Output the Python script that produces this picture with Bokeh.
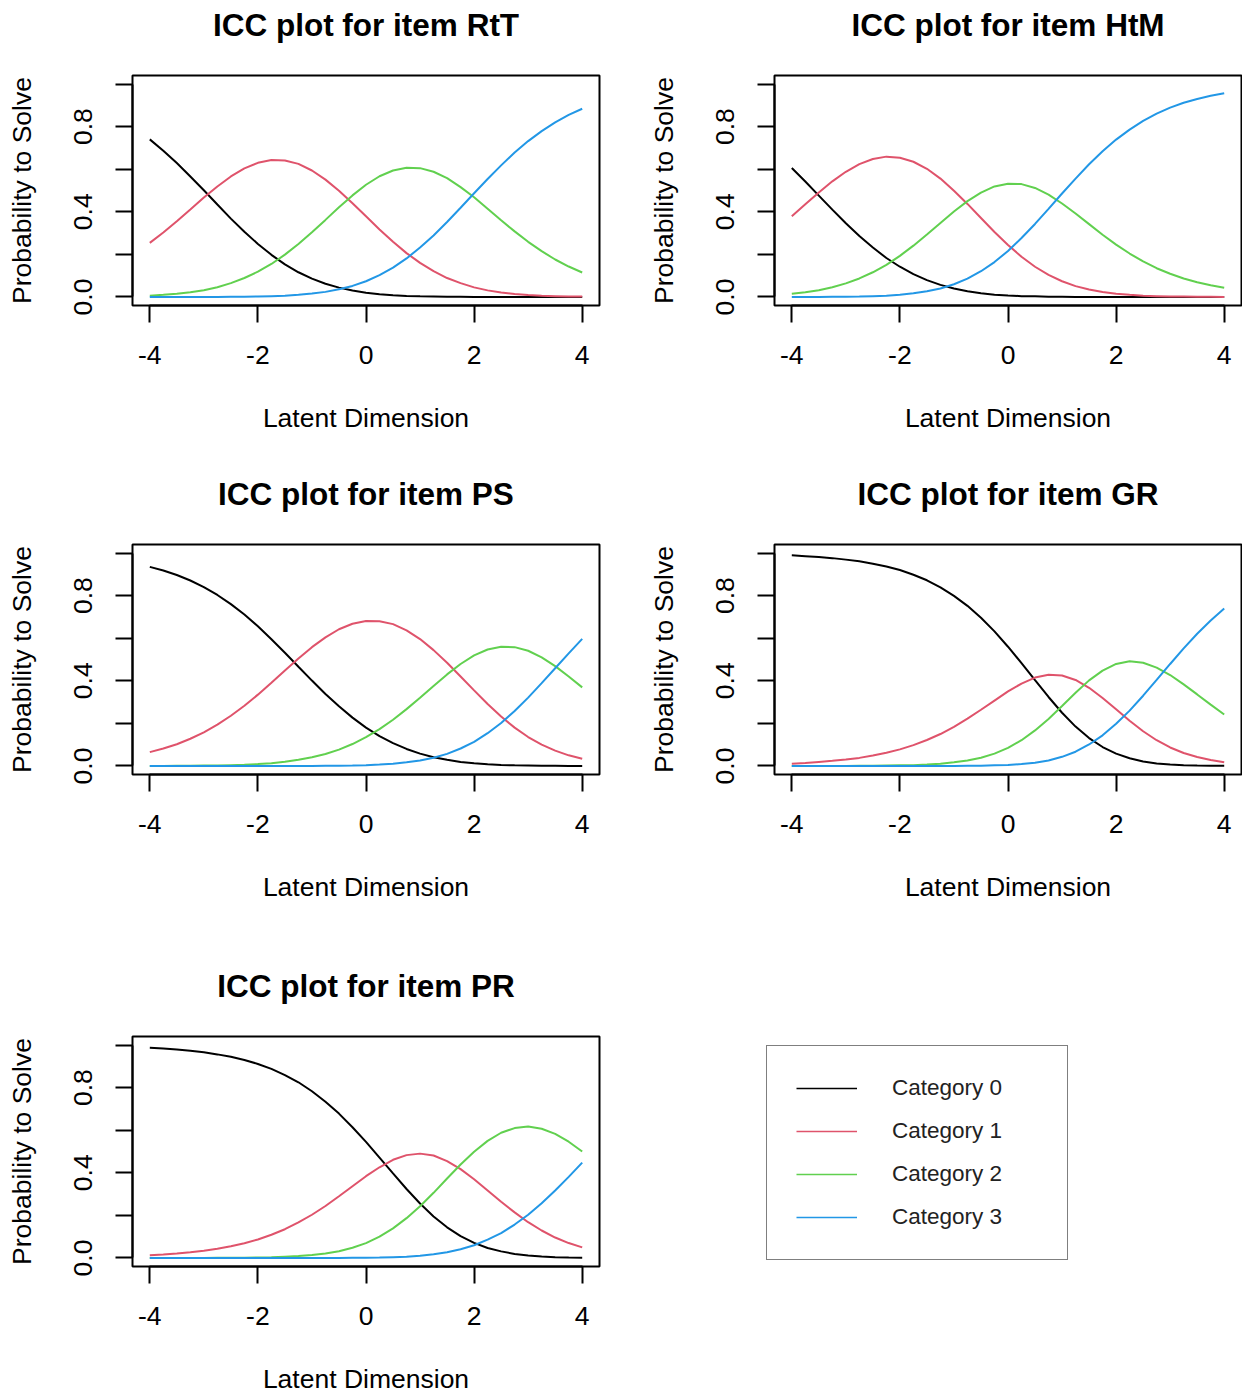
from bokeh.plotting import figure
from bokeh.layouts import column, row
from bokeh.models import (Range1d, FixedTicker, CustomJSTickFormatter,
                          Legend, LegendItem, Title)
from bokeh.embed import file_html
from bokeh.resources import INLINE

# Latent dimension grid (theta)
THETA = [-4.0, -3.75, -3.5, -3.25, -3.0, -2.75, -2.5, -2.25, -2.0, -1.75, -1.5,
         -1.25, -1.0, -0.75, -0.5, -0.25, 0.0, 0.25, 0.5, 0.75, 1.0, 1.25, 1.5,
         1.75, 2.0, 2.25, 2.5, 2.75, 3.0, 3.25, 3.5, 3.75, 4.0]

CATEGORIES = ["Category 0", "Category 1", "Category 2", "Category 3"]
COLORS = ["#000000", "#DF536B", "#61D04F", "#2297E6"]

# Category probabilities per item
RtT_cat0 = [0.740, 0.687, 0.629, 0.566, 0.501, 0.434, 0.368, 0.306, 0.249, 0.198, 0.153,
            0.116, 0.086, 0.062, 0.044, 0.030, 0.020, 0.013, 0.008, 0.005, 0.003, 0.002,
            0.001, 0.001, 0.000, 0.000, 0.000, 0.000, 0.000, 0.000, 0.000, 0.000, 0.000]
RtT_cat1 = [0.254, 0.303, 0.356, 0.411, 0.467, 0.519, 0.566, 0.604, 0.630, 0.643, 0.641,
            0.625, 0.594, 0.551, 0.499, 0.440, 0.379, 0.317, 0.259, 0.206, 0.160, 0.121,
            0.089, 0.065, 0.045, 0.031, 0.021, 0.014, 0.009, 0.006, 0.004, 0.002, 0.002]
RtT_cat2 = [0.006, 0.010, 0.015, 0.022, 0.032, 0.046, 0.065, 0.089, 0.119, 0.155, 0.199,
            0.249, 0.304, 0.362, 0.421, 0.477, 0.527, 0.567, 0.594, 0.607, 0.605, 0.588,
            0.558, 0.516, 0.468, 0.414, 0.360, 0.308, 0.259, 0.215, 0.176, 0.143, 0.115]
RtT_cat3 = [0.000, 0.000, 0.000, 0.000, 0.000, 0.000, 0.001, 0.001, 0.002, 0.004, 0.006,
            0.010, 0.016, 0.024, 0.036, 0.052, 0.074, 0.103, 0.138, 0.181, 0.232, 0.289,
            0.352, 0.419, 0.487, 0.554, 0.618, 0.678, 0.732, 0.779, 0.820, 0.855, 0.884]

HtM_cat0 = [0.606, 0.542, 0.476, 0.410, 0.346, 0.286, 0.232, 0.183, 0.142, 0.107, 0.079,
            0.057, 0.040, 0.027, 0.018, 0.011, 0.007, 0.004, 0.003, 0.001, 0.001, 0.000,
            0.000, 0.000, 0.000, 0.000, 0.000, 0.000, 0.000, 0.000, 0.000, 0.000, 0.000]
HtM_cat1 = [0.379, 0.435, 0.491, 0.543, 0.588, 0.624, 0.648, 0.659, 0.654, 0.635, 0.602,
            0.556, 0.499, 0.437, 0.371, 0.305, 0.244, 0.189, 0.142, 0.104, 0.074, 0.051,
            0.035, 0.023, 0.015, 0.010, 0.006, 0.004, 0.002, 0.002, 0.001, 0.001, 0.000]
HtM_cat2 = [0.015, 0.022, 0.032, 0.046, 0.064, 0.087, 0.116, 0.151, 0.193, 0.241, 0.293,
            0.347, 0.401, 0.450, 0.490, 0.519, 0.532, 0.530, 0.512, 0.481, 0.439, 0.392,
            0.342, 0.292, 0.246, 0.204, 0.167, 0.135, 0.109, 0.087, 0.069, 0.055, 0.043]
HtM_cat3 = [0.000, 0.000, 0.000, 0.001, 0.001, 0.002, 0.004, 0.006, 0.011, 0.017, 0.027,
            0.040, 0.060, 0.086, 0.121, 0.164, 0.216, 0.277, 0.343, 0.414, 0.486, 0.556,
            0.623, 0.684, 0.739, 0.786, 0.827, 0.861, 0.889, 0.912, 0.930, 0.945, 0.957]

PS_cat0 = [0.935, 0.918, 0.897, 0.871, 0.840, 0.803, 0.760, 0.711, 0.656, 0.595, 0.532,
           0.466, 0.401, 0.338, 0.280, 0.227, 0.180, 0.140, 0.107, 0.080, 0.058, 0.041,
           0.029, 0.019, 0.013, 0.008, 0.005, 0.003, 0.002, 0.001, 0.001, 0.000, 0.000]
PS_cat1 = [0.065, 0.082, 0.102, 0.128, 0.158, 0.194, 0.236, 0.283, 0.335, 0.391, 0.448,
           0.505, 0.558, 0.604, 0.642, 0.668, 0.681, 0.680, 0.666, 0.637, 0.596, 0.544,
           0.485, 0.420, 0.355, 0.291, 0.232, 0.180, 0.136, 0.100, 0.072, 0.050, 0.034]
PS_cat2 = [0.000, 0.000, 0.001, 0.001, 0.002, 0.002, 0.004, 0.006, 0.009, 0.013, 0.020,
           0.029, 0.041, 0.056, 0.077, 0.103, 0.135, 0.173, 0.217, 0.267, 0.320, 0.376,
           0.430, 0.479, 0.519, 0.547, 0.560, 0.558, 0.541, 0.510, 0.469, 0.420, 0.369]
PS_cat3 = [0.000, 0.000, 0.000, 0.000, 0.000, 0.000, 0.000, 0.000, 0.000, 0.000, 0.000,
           0.000, 0.000, 0.001, 0.001, 0.002, 0.004, 0.007, 0.011, 0.017, 0.026, 0.039,
           0.057, 0.082, 0.113, 0.154, 0.202, 0.258, 0.321, 0.389, 0.459, 0.529, 0.597]

GR_cat0 = [0.989, 0.985, 0.981, 0.976, 0.969, 0.961, 0.950, 0.937, 0.920, 0.898, 0.872,
           0.839, 0.799, 0.752, 0.696, 0.632, 0.560, 0.483, 0.403, 0.324, 0.250, 0.185,
           0.131, 0.089, 0.058, 0.036, 0.021, 0.012, 0.007, 0.004, 0.002, 0.001, 0.001]
GR_cat1 = [0.011, 0.014, 0.019, 0.024, 0.030, 0.038, 0.049, 0.062, 0.078, 0.098, 0.122,
           0.150, 0.184, 0.222, 0.264, 0.307, 0.350, 0.387, 0.415, 0.428, 0.425, 0.404,
           0.367, 0.319, 0.266, 0.212, 0.163, 0.121, 0.087, 0.061, 0.042, 0.028, 0.018]
GR_cat2 = [0.000, 0.000, 0.000, 0.000, 0.000, 0.001, 0.001, 0.002, 0.003, 0.004, 0.007,
           0.011, 0.017, 0.026, 0.039, 0.058, 0.085, 0.121, 0.167, 0.221, 0.282, 0.344,
           0.402, 0.448, 0.479, 0.492, 0.485, 0.462, 0.427, 0.383, 0.336, 0.288, 0.242]
GR_cat3 = [0.000, 0.000, 0.000, 0.000, 0.000, 0.000, 0.000, 0.000, 0.000, 0.000, 0.000,
           0.000, 0.000, 0.001, 0.001, 0.003, 0.005, 0.009, 0.015, 0.026, 0.043, 0.067,
           0.101, 0.144, 0.198, 0.260, 0.330, 0.404, 0.479, 0.552, 0.621, 0.683, 0.739]

PR_cat0 = [0.987, 0.984, 0.979, 0.973, 0.966, 0.956, 0.945, 0.930, 0.911, 0.888, 0.859,
           0.825, 0.783, 0.734, 0.678, 0.614, 0.545, 0.471, 0.397, 0.324, 0.256, 0.195,
           0.144, 0.103, 0.071, 0.047, 0.031, 0.019, 0.012, 0.007, 0.004, 0.002, 0.001]
PR_cat1 = [0.013, 0.016, 0.021, 0.027, 0.034, 0.043, 0.055, 0.069, 0.087, 0.109, 0.135,
           0.167, 0.203, 0.244, 0.290, 0.337, 0.384, 0.426, 0.461, 0.483, 0.490, 0.481,
           0.455, 0.417, 0.370, 0.317, 0.264, 0.214, 0.168, 0.129, 0.096, 0.070, 0.050]
PR_cat2 = [0.000, 0.000, 0.000, 0.000, 0.000, 0.001, 0.001, 0.001, 0.002, 0.003, 0.006,
           0.009, 0.014, 0.021, 0.032, 0.048, 0.070, 0.100, 0.139, 0.187, 0.243, 0.306,
           0.373, 0.439, 0.499, 0.550, 0.588, 0.610, 0.617, 0.607, 0.583, 0.546, 0.500]
PR_cat3 = [0.000, 0.000, 0.000, 0.000, 0.000, 0.000, 0.000, 0.000, 0.000, 0.000, 0.000,
           0.000, 0.000, 0.000, 0.000, 0.001, 0.001, 0.002, 0.004, 0.006, 0.011, 0.018,
           0.027, 0.041, 0.060, 0.086, 0.117, 0.157, 0.203, 0.257, 0.317, 0.381, 0.448]

X_TICKS = [-4, -2, 0, 2, 4]
Y_TICKS = [0.0, 0.2, 0.4, 0.6, 0.8, 1.0]
Y_TICK_LABELS = {"0": "0.0", "0.4": "0.4", "0.8": "0.8"}

FONT = "Liberation Sans"
BASE_SIZE = "26.5px"


def icc_panel(item, series, right_border, bottom_border):
    p = figure(frame_width=467, frame_height=230,
               x_range=Range1d(-4.32, 4.32), y_range=Range1d(-0.04, 1.04),
               min_border_left=132, min_border_right=right_border,
               min_border_top=75, min_border_bottom=bottom_border,
               output_backend="svg", toolbar_location=None,
               x_axis_label="Latent Dimension", y_axis_label="Probability to Solve")
    # blank strip between the frame and the title, lifting the title upward
    p.add_layout(Title(text=" ", text_font_size="20px", standoff=9), "above")
    p.title.text = f"ICC plot for item {item}"
    p.title.align = "center"
    p.title.text_font = FONT
    p.title.text_font_size = "31.5px"
    p.title.text_font_style = "bold"
    p.title.text_color = "black"
    p.title.standoff = 0

    p.xgrid.visible = False
    p.ygrid.visible = False
    p.outline_line_color = "black"
    p.outline_line_width = 2
    p.background_fill_color = "white"
    p.border_fill_color = "white"

    p.xaxis.ticker = FixedTicker(ticks=X_TICKS)
    p.xaxis.formatter = CustomJSTickFormatter(code="return String(tick);")
    p.yaxis.ticker = FixedTicker(ticks=Y_TICKS)
    p.yaxis.formatter = CustomJSTickFormatter(
        args=dict(lab=Y_TICK_LABELS),
        code="const k = String(Math.round(tick * 10) / 10); return lab[k] ?? '';")
    p.yaxis.major_label_orientation = "vertical"
    p.xaxis.bounds = (-4, 4)
    p.yaxis.bounds = (0, 1)

    for ax in (p.xaxis[0], p.yaxis[0]):
        ax.axis_line_color = "black"
        ax.axis_line_width = 2
        ax.major_tick_line_color = "black"
        ax.major_tick_line_width = 2
        ax.major_tick_out = 17
        ax.major_tick_in = 0
        ax.minor_tick_out = 0
        ax.minor_tick_in = 0
        ax.major_label_text_font = FONT
        ax.major_label_text_font_size = BASE_SIZE
        ax.major_label_text_color = "black"
        ax.axis_label_text_font = FONT
        ax.axis_label_text_font_size = BASE_SIZE
        ax.axis_label_text_font_style = "normal"
        ax.axis_label_text_color = "black"
    p.xaxis.major_label_standoff = 23
    p.xaxis.axis_label_standoff = 36
    p.yaxis.major_label_standoff = 23
    p.yaxis.axis_label_standoff = 35

    for vals, color in zip(series, COLORS):
        p.line(THETA, vals, line_color=color, line_width=2)
    return p


p_rtt = icc_panel("RtT", [RtT_cat0, RtT_cat1, RtT_cat2, RtT_cat3], 43, 164)
p_htm = icc_panel("HtM", [HtM_cat0, HtM_cat1, HtM_cat2, HtM_cat3], 1, 164)
p_ps = icc_panel("PS", [PS_cat0, PS_cat1, PS_cat2, PS_cat3], 43, 187)
p_gr = icc_panel("GR", [GR_cat0, GR_cat1, GR_cat2, GR_cat3], 1, 187)
p_pr = icc_panel("PR", [PR_cat0, PR_cat1, PR_cat2, PR_cat3], 43, 128)

# Legend panel: its frame spans x 742..1241 and the same rows as the PR frame
p_leg = figure(frame_width=499, frame_height=230,
               x_range=Range1d(0, 1), y_range=Range1d(0, 1),
               min_border_left=100, min_border_right=1,
               min_border_top=75, min_border_bottom=128,
               output_backend="svg", toolbar_location=None,
               x_axis_location=None, y_axis_location=None)
p_leg.xgrid.visible = False
p_leg.ygrid.visible = False
p_leg.outline_line_color = None
p_leg.background_fill_color = "white"
p_leg.border_fill_color = "white"
items = []
for label, color in zip(CATEGORIES, COLORS):
    # key-only renderer: a single undefined point, so nothing is drawn in the frame
    r = p_leg.line(x=[float("nan")], y=[float("nan")], line_color=color, line_width=1.3)
    items.append(LegendItem(label=label, renderers=[r]))
legend = Legend(items=items, location=(24, 6), padding=29, spacing=17,
                glyph_width=61, glyph_height=26, label_height=26, label_width=146,
                label_standoff=35, margin=0,
                label_text_font=FONT, label_text_font_size="22.5px",
                label_text_color="#222222",
                border_line_color="black", border_line_width=1.5,
                background_fill_color="white", background_fill_alpha=1.0)
p_leg.add_layout(legend, "center")

layout = column(row(p_rtt, p_htm), row(p_ps, p_gr), row(p_pr, p_leg))
open("out.html", "w").write(file_html(layout, INLINE))
